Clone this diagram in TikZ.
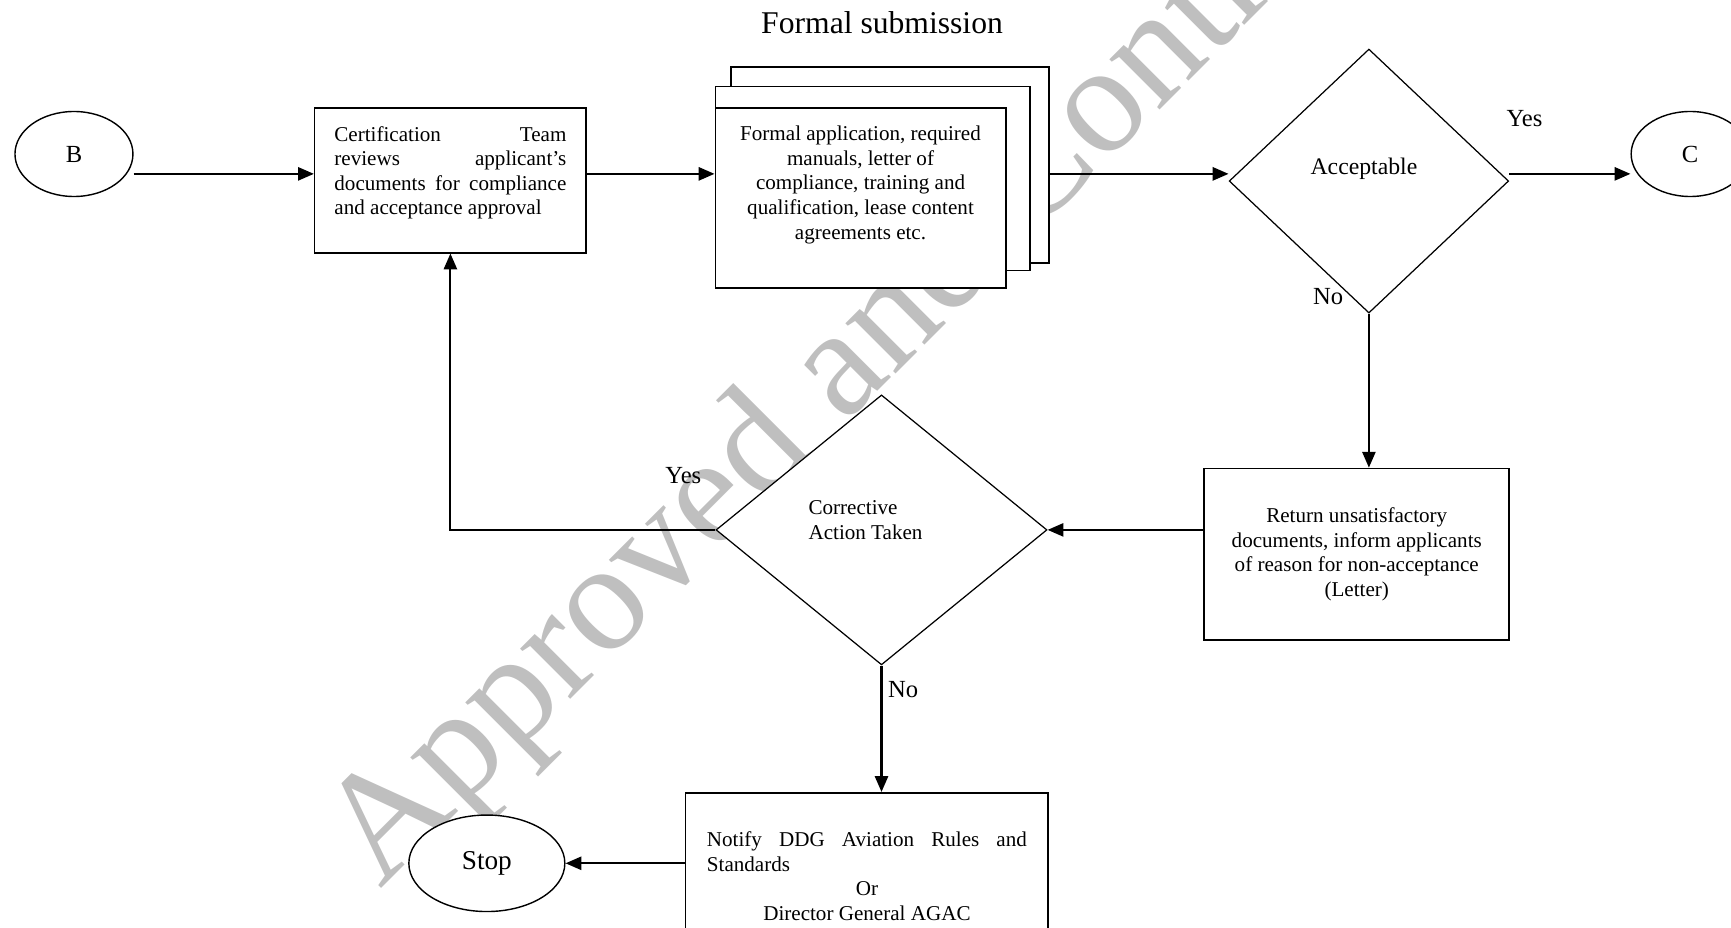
\documentclass[tikz,border=0pt]{standalone}
\usepackage{fontspec}
\setmainfont{Liberation Serif}
\usetikzlibrary{shapes.geometric,arrows.meta}
\hyphenpenalty=10000
\tolerance=9999

\begin{document}
\begin{tikzpicture}[x=0.02208cm,y=-0.02208cm,
    >={Triangle[length=9pt,width=7.5pt]},
    every node/.style={font=\fontsize{12}{14}\selectfont},
    doc/.style={draw,line width=0.9pt,fill=white,inner xsep=0.395cm,inner ysep=0.36cm},
    sheet/.style={draw,line width=0.9pt,fill=white},
    decision/.style={diamond,draw,line width=0.7pt,fill=white,inner sep=0pt},
    terminal/.style={ellipse,draw,line width=0.8pt,fill=white,font=\fontsize{14}{16}\selectfont},
    tag/.style={font=\fontsize{14}{16}\selectfont},
    flow/.style={->,line width=1.2pt}]
   \useasboundingbox (0,0) rectangle (1568,840);
   \clip (0,0) rectangle (1568,840);

   % watermark behind everything
   \node[rotate=45,anchor=base west,inner sep=0pt,text=black!25,font=\fontsize{88}{88}\selectfont] (mark) at (344,806) {Approved and Controlled};

   \node[font=\fontsize{18}{20}\selectfont,anchor=base] (title) at (799,30) {Formal submission};

   % top row
   \node[terminal,minimum width=2.36cm,minimum height=1.70cm] (B) at (67,139.5) {B};
   \node[doc] (cert) at (408,163.5) {\parbox[c][2.17cm][t]{4.64cm}{Certification Team\linebreak reviews applicant's\linebreak documents for compliance and acceptance approval}};
   \node[sheet,minimum width=6.36cm,minimum height=3.93cm] (sub3) at (806,149.5) {};
   \node[sheet,minimum width=6.29cm,minimum height=3.68cm] (sub2) at (790.5,161.75) {};
   \node[doc] (sub) at (779.5,179.5) {\parbox[c][2.88cm][t]{5.02cm}{\centering Formal application, required\\manuals, letter of\\compliance, training and\\qualification, lease content\\agreements etc.}};
   \node[decision,minimum width=5.59cm,minimum height=5.28cm] (acc) at (1240,164) {};
   \node[font=\fontsize{13.5}{15}\selectfont] (acctext) at (1235.5,153) {Acceptable};
   \node[terminal,minimum width=2.36cm,minimum height=1.70cm] (C) at (1531,139.5) {C};
   \node[tag] (accyes) at (1381,107) {Yes};
   \node[tag] (accno) at (1203,269) {No};

   % loop back
   \node[doc,align=center,minimum width=6.10cm,minimum height=3.43cm] (ret) at (1229,502) {Return unsatisfactory\\documents, inform applicants\\of reason for non-acceptance\\(Letter)};
   \node[decision,minimum width=6.62cm,minimum height=5.40cm] (corr) at (798.5,480) {};
   \node[align=left] (corrtext) at (784,471) {Corrective\\Action Taken};
   \node[tag] (corryes) at (619,431) {Yes};
   \node[tag] (corrno) at (818,625) {No};

   % bottom
   \node[doc,inner xsep=0.425cm,minimum width=7.25cm,minimum height=3.33cm] (notify) at (785.3,793.5) {\parbox{6.40cm}{Notify DDG Aviation Rules and Standards\par\centering Or\\Director General AGAC}};
   \node[terminal,font=\fontsize{15.5}{17}\selectfont,minimum width=3.12cm,minimum height=1.93cm] (stop) at (441,782) {Stop};

   \coordinate (row) at (0,157.5);
   \draw[flow] (B.east |- row) -- (row -| cert.west);
   \draw[flow] (cert.east |- row) -- (row -| sub.west);
   \draw[flow] (sub3.east |- row) -- (row -| acc.west);
   \draw[flow] (acc.east |- row) -- (row -| C.west);
   \draw[flow] (acc.south) -- (acc.south |- ret.north);
   \draw[flow] (ret.west |- corr.east) -- (corr.east);
   \draw[flow] (corr.west) -| (cert.south);
   \draw[flow] (corr.south) -- (corr.south |- notify.north);
   \draw[flow] (notify.west |- stop.east) -- (stop.east);
\end{tikzpicture}
\end{document}
